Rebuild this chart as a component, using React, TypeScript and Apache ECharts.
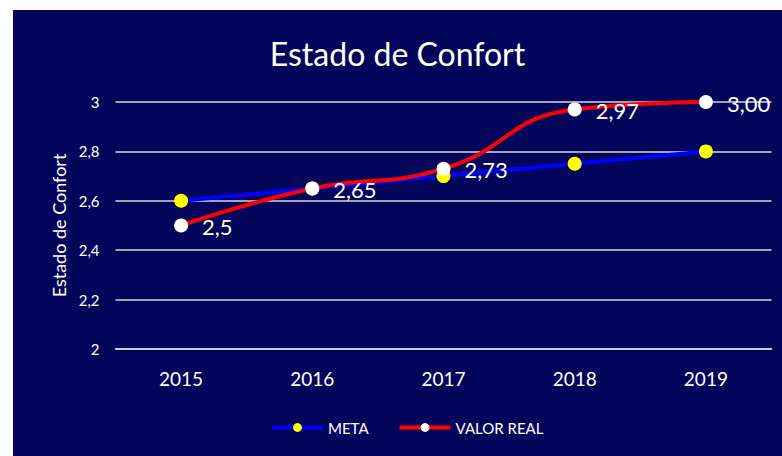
import React, { useEffect, useRef } from "react";
import * as echarts from "echarts";

const categories = ["2015", "2016", "2017", "2018", "2019"];
const metaValues = [2.6, 2.65, 2.7, 2.75, 2.8];
const realValues = [2.5, 2.65, 2.73, 2.97, 3.0];
const realLabels = ["2,5", "2,65", "2,73", "2,97", "3,00"];
const yTicks = { min: 2, max: 3, interval: 0.2 };

const FONT = "Lato, 'Open Sans', sans-serif";

export default function App() {
  const ref = useRef<HTMLDivElement>(null);
  useEffect(() => {
    if (!ref.current) return;
    const chart = echarts.init(ref.current, null, { renderer: "svg" });
    chart.setOption({
      animation: false,
      backgroundColor: "#03055a",
      textStyle: { fontFamily: FONT },
      title: {
        text: "Estado de Confort",
        left: "center",
        top: 22,
        textStyle: { color: "#ffffff", fontSize: 32, fontWeight: "normal", fontFamily: FONT },
      },
      legend: {
        bottom: 16,
        left: 252,
        itemWidth: 51,
        itemHeight: 11,
        itemGap: 29,
        lineStyle: { width: 4 },
        textStyle: { color: "#ffffff", fontSize: 15, fontFamily: FONT },
        data: ["META", "VALOR REAL"],
      },
      grid: { left: 102.5, right: 10.5, top: 92, bottom: 107 },
      xAxis: {
        type: "category",
        data: categories,
        boundaryGap: true,
        axisLine: { show: true, lineStyle: { color: "#d9d9d9", width: 1.5 } },
        axisTick: { show: false },
        axisLabel: { color: "#ffffff", fontSize: 19, margin: 20, fontFamily: FONT },
      },
      yAxis: {
        type: "value",
        min: yTicks.min,
        max: yTicks.max,
        interval: yTicks.interval,
        name: "Estado de Confort",
        nameLocation: "middle",
        nameGap: 47,
        nameRotate: 90,
        nameTextStyle: { color: "#ffffff", fontSize: 18, fontFamily: FONT },
        axisLine: { show: false },
        axisTick: { show: false },
        splitLine: { lineStyle: { color: "#d9d9d9", width: 1.5 } },
        axisLabel: {
          color: "#ffffff",
          fontSize: 15,
          margin: 16,
          fontFamily: FONT,
          formatter: (v: number) => String(Math.round(v * 10) / 10).replace(".", ","),
        },
      },
      series: [
        {
          name: "META",
          type: "line",
          data: metaValues,
          symbol: "circle",
          symbolSize: 14,
          lineStyle: { color: "#0000ff", width: 4 },
          itemStyle: { color: "#ffff00" },
          z: 2,
        },
        {
          name: "VALOR REAL",
          type: "line",
          data: realValues,
          smooth: 0.5,
          symbol: "circle",
          symbolSize: 14,
          lineStyle: { color: "#ff0000", width: 4 },
          itemStyle: { color: "#ffffff" },
          z: 3,
          label: {
            show: true,
            position: "right",
            distance: 14,
            offset: [0, 1],
            color: "#ffffff",
            fontSize: 22,
            fontFamily: FONT,
            formatter: (p: any) => realLabels[p.dataIndex],
          },
        },
      ],
    });
    return () => chart.dispose();
  }, []);
  return (
    <div style={{ position: "fixed", left: 0, top: 0, width: 782, height: 456, background: "#ffffff" }}>
      <div ref={ref} style={{ position: "absolute", left: 13, top: 10, width: 769, height: 446 }} />
    </div>
  );
}
